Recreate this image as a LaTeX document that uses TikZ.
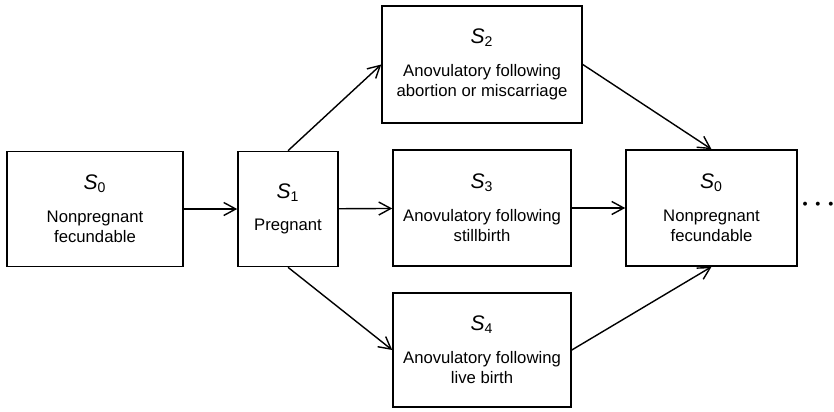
\documentclass[tikz,border=0pt]{standalone}
\usepackage{fontspec}
\setmainfont{Liberation Sans}
\usetikzlibrary{arrows.meta}
\tikzset{
  state/.style={draw, line width=0.9pt, inner sep=0pt, minimum height=2.3cm,
    align=center, font=\fontsize{9.5}{11.5}\selectfont},
  link/.style={line width=0.8pt, -{Straight Barb[length=2.4mm,width=2.6mm]}}
}
\newcommand{\stname}[1]{{\fontsize{12}{14}\selectfont\textit{S}\textsubscript{#1}}\\[2.5mm]}
\begin{document}
\begin{tikzpicture}
      \useasboundingbox (0,0) rectangle (16.68,8.22);
      \draw
        (1.90,4.04) node[state, minimum width=3.52cm] (s0){\stname{0}Nonpregnant\\fecundable}
        (5.76,4.04) node[state, minimum width=2.0cm] (s1){\stname{1}Pregnant}
        (9.64,6.93) node[state, minimum width=4.0cm, minimum height=2.34cm] (s2){\stname{2}Anovulatory following\\abortion or miscarriage}
        (9.64,4.06) node[state, minimum width=3.56cm, minimum height=2.32cm] (s3){\stname{3}Anovulatory following\\stillbirth}
        (9.64,1.22) node[state, minimum width=3.56cm, minimum height=2.28cm] (s4){\stname{4}Anovulatory following\\live birth}
        (14.23,4.06) node[state, minimum width=3.42cm, minimum height=2.32cm] (s0b){\stname{0}Nonpregnant\\fecundable}
        (16.36,4.12) node[font=\Large\boldmath, inner sep=0pt] (more){$\cdots$};
      \begin{scope}[link]
        \draw (s0) to (s1);
        \draw (s1.north) to (s2.west);
        \draw (s1) to (s3);
        \draw (s1.south) to (s4.west);
        \draw (s2.east) to (s0b.north);
        \draw (s3) to (s0b);
        \draw (s4.east) to (s0b.south);
      \end{scope}
    \end{tikzpicture}
\end{document}
